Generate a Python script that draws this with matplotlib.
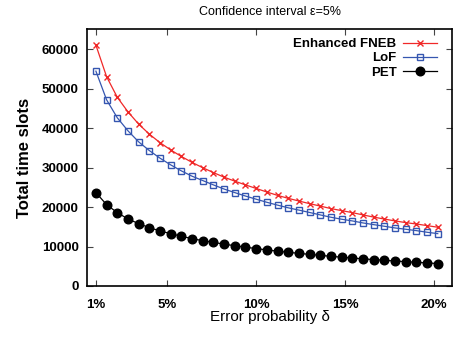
import matplotlib
matplotlib.use("Agg")
import matplotlib.pyplot as plt

plt.rcParams['font.family'] = ['Liberation Sans', 'DejaVu Sans']

# error probability delta (%)
delta = [1.0, 1.6, 2.2, 2.8, 3.4, 4.0, 4.6, 5.2, 5.8, 6.4, 7.0, 7.6, 8.2, 8.8, 9.4,
         10.0, 10.6, 11.2, 11.8, 12.4, 13.0, 13.6, 14.2, 14.8, 15.4, 16.0, 16.6,
         17.2, 17.8, 18.4, 19.0, 19.6, 20.2]

fneb = [61000, 53000, 47800, 44100, 41000, 38450, 36300, 34450, 32800, 31300,
        29950, 28720, 27550, 26550, 25600, 24700, 23800, 22950, 22200, 21520,
        20850, 20240, 19600, 19090, 18580, 18000, 17450, 16950, 16480, 16050,
        15700, 15290, 14880]
lof = [54400, 47150, 42600, 39300, 36500, 34300, 32370, 30670, 29150, 27800,
       26700, 25600, 24550, 23650, 22780, 21980, 21200, 20480, 19800, 19220,
       18620, 18000, 17410, 16910, 16480, 15970, 15540, 15130, 14700, 14370,
       14020, 13610, 13260]
pet = [23650, 20600, 18580, 16980, 15790, 14780, 13940, 13260, 12600, 11990,
       11480, 11050, 10600, 10200, 9830, 9480, 9140, 8820, 8530, 8270,
       8010, 7760, 7520, 7290, 7080, 6880, 6690, 6510, 6330, 6160,
       6000, 5840, 5690]

xticks = [1, 5, 10, 15, 20]
xticklabels = ['1%', '5%', '10%', '15%', '20%']
yticks = [0, 10000, 20000, 30000, 40000, 50000, 60000]

fig = plt.figure(figsize=(4.63, 3.4), dpi=100)
ax = fig.add_axes([87/463, 1 - 286/340, (452 - 87)/463, (286 - 29.3)/340])

ax.plot(delta, fneb, color='#f02828', lw=0.9, marker='x', ms=5, mew=1.0,
        label='Enhanced FNEB')
ax.plot(delta, lof, color='#3556b0', lw=0.9, marker='s', ms=5, mfc='none',
        mew=1.0, label='LoF')
ax.plot(delta, pet, color='black', lw=0.9, marker='o', ms=6.2,
        label='PET')

ax.set_xlim(0.5, 21)
ax.set_ylim(0, 65000)
ax.set_xticks(xticks)
ax.set_xticklabels(xticklabels, fontweight='bold', fontsize=9.5)
ax.set_yticks(yticks)
ax.set_yticklabels([str(v) for v in yticks], fontweight='bold', fontsize=9.5)
ax.tick_params(direction='in', top=True, right=True, length=4, width=0.8,
               color='#444444')
ax.tick_params(axis='y', pad=6)
ax.tick_params(axis='x', pad=9)

for s in ax.spines.values():
    s.set_linewidth(1.2)

ax.set_ylabel('Total time slots', fontsize=12, fontweight='bold', labelpad=7)
ax.set_xlabel('Error probability δ', fontsize=11, labelpad=0)

fig.text(270/463, 1 - 12/340, 'Confidence interval ε=5%', fontsize=9,
         ha='center', va='center')

leg = ax.legend(loc='upper right', bbox_to_anchor=(0.985, 1.002),
                markerfirst=False, frameon=False, handlelength=2.6,
                handletextpad=0.5, labelspacing=0.15, borderaxespad=0.3,
                prop={'weight': 'bold', 'size': 9.5})

fig.savefig('out.png', dpi=100)
